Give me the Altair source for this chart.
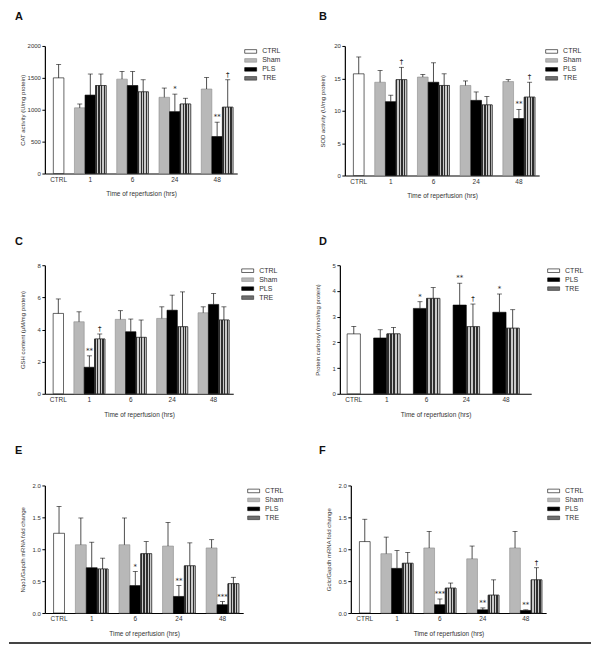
import altair as alt
import pandas as pd

FONT = "Liberation Sans"
GROUPS = ["1", "6", "24", "48"]
X_TITLE = "Time of reperfusion (hrs)"

# ---------------- Panel A : CAT activity ----------------
A_ctrl, A_ctrl_err = 1500, 210
A_sham = [1030, 1480, 1195, 1325]; A_sham_err = [60, 120, 145, 180]
A_pls = [1230, 1380, 970, 580];    A_pls_err = [330, 220, 275, 225]
A_tre = [1380, 1280, 1090, 1040];  A_tre_err = [180, 190, 90, 430]
A_marks = [("24", "PLS", "*"), ("48", "PLS", "**"), ("48", "TRE", "†")]

# ---------------- Panel B : SOD activity ----------------
B_ctrl, B_ctrl_err = 15.7, 2.6
B_sham = [14.4, 15.2, 13.9, 14.5]; B_sham_err = [1.8, 0.4, 0.7, 0.3]
B_pls = [11.4, 14.4, 11.6, 8.8];   B_pls_err = [1.0, 3.0, 1.3, 1.4]
B_tre = [14.8, 13.9, 10.9, 12.1];  B_tre_err = [1.9, 1.8, 1.3, 2.3]
B_marks = [("1", "TRE", "†"), ("48", "PLS", "**"), ("48", "TRE", "†")]

# ---------------- Panel C : GSH content ----------------
C_ctrl, C_ctrl_err = 5.0, 0.9
C_sham = [4.48, 4.63, 4.69, 5.04]; C_sham_err = [0.62, 0.54, 0.72, 0.37]
C_pls = [1.65, 3.86, 5.20, 5.56];  C_pls_err = [0.71, 0.79, 0.94, 0.68]
C_tre = [3.41, 3.51, 4.17, 4.59];  C_tre_err = [0.31, 1.08, 2.17, 0.82]
C_marks = [("1", "PLS", "**"), ("1", "TRE", "†")]

# ---------------- Panel D : Protein carbonyl ----------------
D_ctrl, D_ctrl_err = 2.33, 0.29
D_pls = [2.17, 3.32, 3.45, 3.17];  D_pls_err = [0.32, 0.26, 0.85, 0.71]
D_tre = [2.33, 3.71, 2.61, 2.55];  D_tre_err = [0.25, 0.42, 0.88, 0.72]
D_marks = [("6", "PLS", "*"), ("24", "PLS", "**"), ("24", "TRE", "†"), ("48", "PLS", "*")]

# ---------------- Panel E : Nqo1 mRNA ----------------
E_ctrl, E_ctrl_err = 1.25, 0.42
E_sham = [1.07, 1.07, 1.05, 1.02]; E_sham_err = [0.42, 0.42, 0.37, 0.13]
E_pls = [0.71, 0.43, 0.26, 0.13];  E_pls_err = [0.40, 0.22, 0.17, 0.05]
E_tre = [0.69, 0.93, 0.74, 0.46];  E_tre_err = [0.17, 0.19, 0.36, 0.10]
E_marks = [("6", "PLS", "*"), ("24", "PLS", "**"), ("48", "PLS", "***")]

# ---------------- Panel F : Gclc mRNA ----------------
F_ctrl, F_ctrl_err = 1.12, 0.35
F_sham = [0.93, 1.02, 0.85, 1.02]; F_sham_err = [0.26, 0.26, 0.20, 0.26]
F_pls = [0.70, 0.13, 0.05, 0.04];  F_pls_err = [0.28, 0.09, 0.03, 0.01]
F_tre = [0.78, 0.39, 0.28, 0.52];  F_tre_err = [0.17, 0.08, 0.24, 0.19]
F_marks = [("6", "PLS", "***"), ("24", "PLS", "**"), ("48", "PLS", "**"), ("48", "TRE", "†")]

FILLS = {"CTRL": "#ffffff", "Sham": "#b8b8b8", "PLS": "#000000", "TRE": "#707070"}
STROKES = {"CTRL": "#000000", "Sham": "#8c8c8c", "PLS": "#000000", "TRE": "#2a2a2a"}

# checker-like texture for TRE bars (fine vertical stripes)
_stops = []
_n = 8
for i in range(_n):
    c = "#2e2e2e" if i % 2 == 0 else "#c8c8c8"
    _stops.append(alt.GradientStop(offset=i / _n, color=c))
    _stops.append(alt.GradientStop(offset=(i + 1) / _n, color=c))
TRE_TEXTURE = alt.Gradient(gradient="linear", stops=_stops, x1=0, x2=1, y1=0, y2=0)


def panel(letter, ytitle, ymax, ticks, fmt, width, height, ctrl, ctrl_err,
          names, vals, errs, marks, yext, legend_offset, pad_left, pad_right,
          letter_x, letter_y):
    rows = [dict(slot="CTRL", series="CTRL", value=ctrl, err=ctrl_err)]
    for i, g in enumerate(GROUPS):
        for s, v, e in zip(names, vals, errs):
            rows.append(dict(slot=f"{g}|{s}", series=s, value=v[i], err=e[i]))
    df = pd.DataFrame(rows)
    df["top"] = df["value"] + df["err"]

    domain = ["CTRL"]
    for g in GROUPS:
        domain += [f"gap{g}"] + [f"{g}|{s}" for s in names]
    n = len(domain)
    padtot = pad_left + pad_right
    step = width / (n + padtot)
    label_vals = ["CTRL"] + [f"{g}|{names[(len(names) - 1) // 2]}" for g in GROUPS]
    if len(names) % 2 == 0:
        label_off = {"condition": {"test": "datum.value == 'CTRL'", "value": 0},
                     "value": step / 2}
    else:
        label_off = 0

    series_dom = ["CTRL"] + list(names)
    xscale = alt.Scale(domain=domain, paddingInner=0, paddingOuter=padtot / 2,
                       align=pad_left / padtot)
    xaxis = alt.Axis(values=label_vals, labelExpr="split(datum.value, '|')[0]",
                     title=X_TITLE, ticks=False, labelAngle=0, domainColor="black",
                     domainWidth=1.2, labelFontSize=6.5, titleFontSize=6.5,
                     titleFontWeight="normal", labelPadding=3, titlePadding=8,
                     labelOffset=label_off, labelColor="#333", titleColor="#333",
                     labelFont=FONT, titleFont=FONT, labelOverlap=False)
    yscale = alt.Scale(domain=[0, ymax], nice=False)
    yaxis = alt.Axis(values=ticks, format=fmt, title=ytitle, grid=False, tickSize=3,
                     tickColor="black", domainColor="black", domainWidth=1.2,
                     tickWidth=1, labelFontSize=6, titleFontSize=6,
                     titleFontWeight="normal", labelPadding=1.5, titlePadding=2,
                     minExtent=yext, maxExtent=yext, labelColor="#333",
                     titleColor="#333", labelFont=FONT, titleFont=FONT,
                     labelOverlap=False, labelFlush=False)
    legend = alt.Legend(title=None, symbolType="M-1.2,-0.36H1.2V0.36H-1.2Z",
                        symbolSize=100, labelFontSize=7, labelFont=FONT,
                        labelColor="#333", rowPadding=0, offset=legend_offset,
                        symbolStrokeWidth=0.6, padding=0, labelOffset=6)

    base = alt.Chart(df)
    x = alt.X("slot:N", scale=xscale, axis=xaxis)
    y_val = alt.Y("value:Q", scale=yscale, axis=yaxis)
    y_top = alt.Y("top:Q", scale=yscale, axis=yaxis)
    bars = base.mark_bar(strokeWidth=0.6).encode(
        x=x, y=y_val,
        fill=alt.Fill("series:N", scale=alt.Scale(domain=series_dom,
                      range=[FILLS[s] for s in series_dom]), legend=legend),
        stroke=alt.Stroke("series:N", scale=alt.Scale(domain=series_dom,
                          range=[STROKES[s] for s in series_dom]), legend=legend),
    )
    tex = base.transform_filter(alt.datum.series == "TRE").mark_bar(
        fill=TRE_TEXTURE, stroke="#2a2a2a", strokeWidth=0.6
    ).encode(x=x, y=y_val)
    err = base.mark_rule(color="black", strokeWidth=0.7).encode(
        x=x, y=y_val, y2="top:Q")
    cap = base.mark_tick(color="black", thickness=0.8, size=5, orient="horizontal").encode(
        x=x, y=y_top)

    mk = pd.DataFrame([dict(slot=f"{g}|{s}", label=t) for g, s, t in marks])
    mk = mk.merge(df[["slot", "top"]], on="slot")
    txt = alt.Chart(mk).mark_text(dy=-2, baseline="bottom", fontSize=7,
                                  font="DejaVu Sans", color="#222").encode(
        x=x, y=y_top, text="label:N")

    lab = alt.Chart(pd.DataFrame({"t": [letter]})).mark_text(
        align="left", baseline="top", fontSize=11, fontWeight="bold", font=FONT,
        color="#111").encode(x=alt.value(letter_x), y=alt.value(letter_y), text="t:N")

    return alt.layer(bars, tex, err, cap, txt, lab).properties(width=width, height=height)


S3 = ["Sham", "PLS", "TRE"]
pA = panel("A", "CAT activity (U/mg protein)", 2000, [0, 500, 1000, 1500, 2000], "d",
           193, 128, A_ctrl, A_ctrl_err, S3, [A_sham, A_pls, A_tre],
           [A_sham_err, A_pls_err, A_tre_err], A_marks, 17, 8, 0.8, 0.4, -30, -35)
pB = panel("B", "SOD activity (U/mg protein)", 20, [0, 5, 10, 15, 20], "d",
           195, 130, B_ctrl, B_ctrl_err, S3, [B_sham, B_pls, B_tre],
           [B_sham_err, B_pls_err, B_tre_err], B_marks, 17, 7, 0.8, 0.4, -26, -35)
pC = panel("C", "GSH content (μM/mg protein)", 8, [0, 2, 4, 6, 8], "d",
           189, 129, C_ctrl, C_ctrl_err, S3, [C_sham, C_pls, C_tre],
           [C_sham_err, C_pls_err, C_tre_err], C_marks, 17, 9, 0.8, 0.4, -30, -29)
pD = panel("D", "Protein carbonyl (nmol/mg protein)", 5, [0, 1, 2, 3, 4, 5], "d",
           192, 129, D_ctrl, D_ctrl_err, ["PLS", "TRE"], [D_pls, D_tre],
           [D_pls_err, D_tre_err], D_marks, 17, 17, 0.55, 0.9, -21, -29)
pE = panel("E", "Nqo1/Gapdh mRNA fold change", 2.0, [0, 0.5, 1.0, 1.5, 2.0], ".1f",
           199, 128, E_ctrl, E_ctrl_err, S3, [E_sham, E_pls, E_tre],
           [E_sham_err, E_pls_err, E_tre_err], E_marks, 17, 5, 0.8, 0.4, -30, -41)
pF = panel("F", "Gclc/Gapdh mRNA fold change", 2.0, [0, 0.5, 1.0, 1.5, 2.0], ".1f",
           196, 128, F_ctrl, F_ctrl_err, S3, [F_sham, F_pls, F_tre],
           [F_sham_err, F_pls_err, F_tre_err], F_marks, 17, 2, 0.8, 0.4, -32, -41)


def row(a, b, sp):
    return alt.hconcat(a, b, spacing=sp).resolve_scale(
        x="independent", y="independent", fill="independent", stroke="independent"
    ).resolve_legend(fill="independent", stroke="independent")


r1 = row(pA, pB, 38)
r2 = row(pC, pD, 37)
r3 = row(pE, pF, 35)

line = alt.Chart(pd.DataFrame({"a": [0]})).mark_rule(color="#444", strokeWidth=2).encode(
    x=alt.value(-36), x2=alt.value(548), y=alt.value(1)
).properties(width=500, height=2)


def stack(items, sp):
    return alt.vconcat(*items, spacing=sp).resolve_scale(
        x="independent", y="independent", fill="independent", stroke="independent"
    ).resolve_legend(fill="independent", stroke="independent")


chart = stack([stack([stack([r1, r2], 37), r3], 27), line], 5).properties(
    padding={"left": 0, "top": 2, "right": 0, "bottom": 0}
).configure_view(stroke=None)

chart.save("out.html", embed_options={"renderer": "svg", "actions": False})
